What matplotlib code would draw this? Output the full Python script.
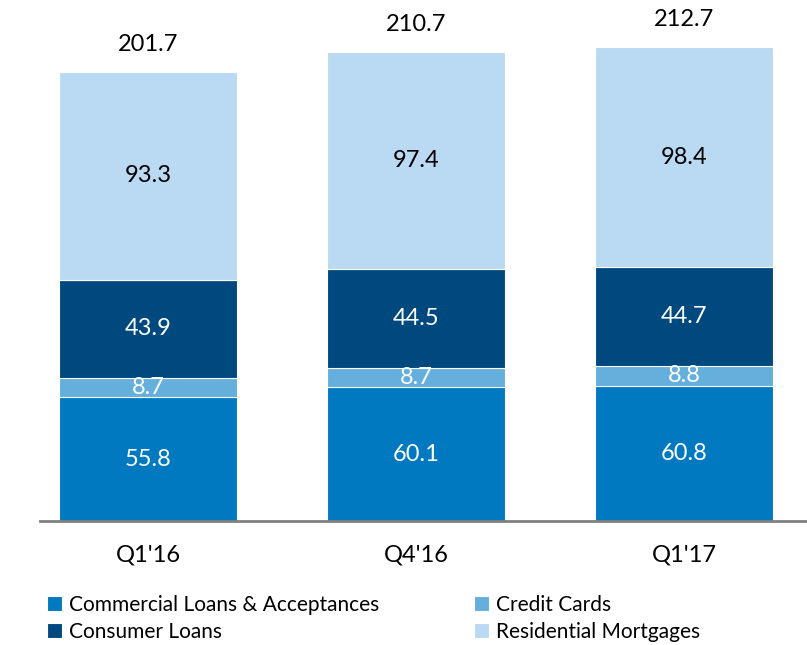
import numpy as np
import matplotlib.pyplot as plt

plt.rcParams['font.family'] = ['Lato', 'DejaVu Sans']

quarters = ["Q1'16", "Q4'16", "Q1'17"]
commercial = [55.8, 60.1, 60.8]
credit_cards = [8.7, 8.7, 8.8]
consumer = [43.9, 44.5, 44.7]
residential = [93.3, 97.4, 98.4]
totals = [201.7, 210.7, 212.7]

series = [
    ('Commercial Loans & Acceptances', commercial, '#0079c1', 'white'),
    ('Credit Cards', credit_cards, '#64afdc', 'white'),
    ('Consumer Loans', consumer, '#00497e', 'white'),
    ('Residential Mortgages', residential, '#bad9f3', 'black'),
]

fig = plt.figure(figsize=(8.07, 6.45), dpi=100)
ax = fig.add_axes([0.0496, 0.192, 0.9504, 0.808])

x = np.arange(len(quarters))
bottom = np.zeros(len(quarters))
handles = {}
for name, vals, color, tcolor in series:
    vals = np.array(vals)
    bars = ax.bar(x, vals, 0.664, bottom=bottom, color=color, edgecolor='white', linewidth=0.8, label=name)
    handles[name] = bars
    for xi, b, v in zip(x, bottom, vals):
        ax.text(xi, b + v / 2, f'{v:.1f}', ha='center', va='center', color=tcolor, fontsize=17)
    bottom += vals

for xi, t in zip(x, totals):
    ax.annotate(f'{t:.1f}', (xi, t), xytext=(0, 20), textcoords='offset points',
                ha='center', va='center', fontsize=17, color='black')

ax.set_xlim(-0.403, 2.459)
ax.set_ylim(0, 234)
ax.set_xticks(x)
ax.set_xticklabels(quarters, fontsize=17)
ax.tick_params(axis='x', length=0, pad=17)
ax.set_yticks([])
for s in ['top', 'right', 'left']:
    ax.spines[s].set_visible(False)
ax.spines['bottom'].set_color('#808080')
ax.spines['bottom'].set_linewidth(2)

order = ['Commercial Loans & Acceptances', 'Consumer Loans', 'Credit Cards', 'Residential Mortgages']
fig.legend([handles[n] for n in order], order, ncol=2, loc='upper left',
           bbox_to_anchor=(0.058, 0.078), frameon=False, fontsize=15,
           handlelength=0.75, handleheight=0.75, handletextpad=0.3,
           columnspacing=4.55, labelspacing=0.35, borderaxespad=0, borderpad=0)

plt.savefig('out.png', dpi=100)
